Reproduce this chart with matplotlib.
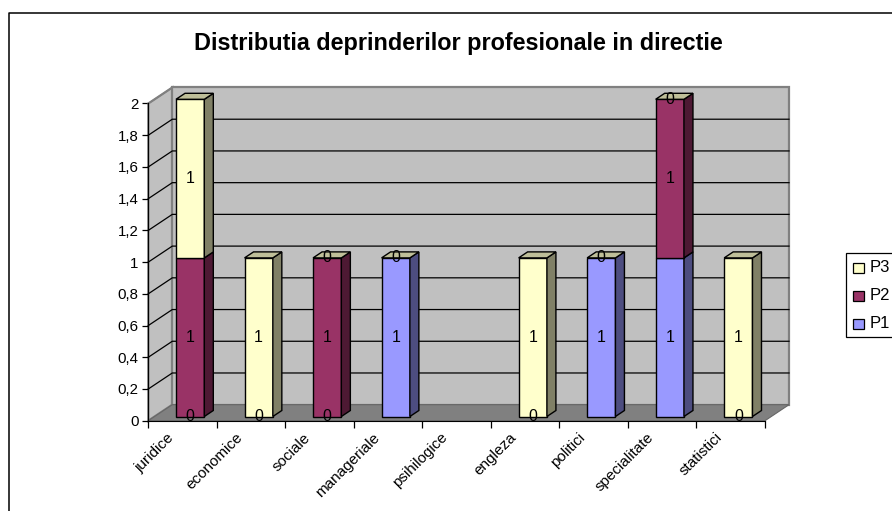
import matplotlib
matplotlib.use('Agg')
import matplotlib.pyplot as plt
from matplotlib.patches import Rectangle
from matplotlib.transforms import ScaledTranslation

plt.rcParams['font.family'] = ['Liberation Sans', 'DejaVu Sans']

categories = ['juridice', 'economice', 'sociale', 'manageriale', 'psihilogice',
              'engleza', 'politici', 'specialitate', 'statistici']
# None = empty cell, no segment and no label
p1 = [0, 0, 0, 1, None, 0, 1, 1, 0]
p2 = [1, None, 1, 0, None, None, 0, 1, None]
p3 = [1, 1, 0, None, None, 1, None, 0, 1]
series_names = ['P1', 'P2', 'P3']
y_ticks = [0, 0.2, 0.4, 0.6, 0.8, 1, 1.2, 1.4, 1.6, 1.8, 2]

front_colors = ['#9999FF', '#993366', '#FFFFCC']
side_colors = ['#4D4D80', '#4D1933', '#808066']
cap_color = '#BFBF99'
label_size = 10.8

W, H = 892, 511
# front plane of the 3D box, in pixels
left, right, bottom, top = 148.3, 765.0, 420.7, 103.5
fig = plt.figure(figsize=(W / 100, H / 100), dpi=100)
ax = fig.add_axes([left / W, 1 - bottom / H, (right - left) / W, (bottom - top) / H])
ax.set_xlim(0, len(categories))
ax.set_ylim(0, 2)

px_x = len(categories) / (right - left)  # data units per pixel
px_y = 2 / (bottom - top)
wall_dx, wall_dy = 24 * px_x, 16 * px_y
bar_width = 28.3 * px_x
bar_off_x, bar_off_y = 7.6 * px_x, 4.2 * px_y
bar_dx, bar_dy = 9 * px_x, 6 * px_y
n = len(categories)


def poly(xs, ys, color, edge='black', lw=1.0, z=1):
    ax.fill(xs, ys, facecolor=color, edgecolor=edge, lw=lw, zorder=z,
            clip_on=False, joinstyle='miter')


def draw_walls():
    poly([0, wall_dx, wall_dx, 0], [0, wall_dy, 2 + wall_dy, 2], '#C0C0C0', '#808080', 1.6)
    poly([wall_dx, n + wall_dx, n + wall_dx, wall_dx],
         [wall_dy, wall_dy, 2 + wall_dy, 2 + wall_dy], '#C0C0C0', '#808080', 1.6)
    for v in y_ticks[1:-1]:
        ax.plot([0, wall_dx, n + wall_dx], [v, v + wall_dy, v + wall_dy],
                color='black', lw=0.9, zorder=2, clip_on=False)
    ax.plot([0, wall_dx], [2, 2 + wall_dy], color='#808080', lw=1.0, zorder=2, clip_on=False)
    poly([0, wall_dx, n + wall_dx, n], [0, wall_dy, wall_dy, 0], '#808080', '#666666', 0.8, 3)


def draw_bars():
    z = 4
    for i in range(n):
        x0 = i + 0.5 - bar_width / 2 + bar_off_x
        x1 = x0 + bar_width
        base = 0
        labels = []
        for j, vals in enumerate([p1, p2, p3]):
            v = vals[i]
            if v is None:
                continue
            y0 = base + bar_off_y
            y1 = y0 + v
            if v > 0:
                poly([x0, x1, x1, x0], [y0, y0, y1, y1], front_colors[j], z=z)
                poly([x1, x1 + bar_dx, x1 + bar_dx, x1],
                     [y0, y0 + bar_dy, y1 + bar_dy, y1], side_colors[j], z=z)
            labels.append(((x0 + x1) / 2, (y0 + y1) / 2, v))
            base += v
        if base > 0:
            y1 = base + bar_off_y
            poly([x0, x1, x1 + bar_dx, x0 + bar_dx],
                 [y1, y1, y1 + bar_dy, y1 + bar_dy], cap_color, z=z)
        for lx, ly, v in labels:
            ax.text(lx, ly, str(v), ha='center', va='center', fontsize=11.4,
                    color='black', zorder=6, clip_on=False)


draw_walls()
draw_bars()

for s in ['top', 'right']:
    ax.spines[s].set_visible(False)
ax.patch.set_visible(False)
ax.spines['left'].set_zorder(5)
ax.spines['bottom'].set_zorder(5)
ax.set_yticks(y_ticks)
ax.set_yticklabels([str(v).replace('.', ',') for v in y_ticks], fontsize=label_size)
ax.tick_params(axis='y', length=4, width=0.9, pad=3)
ax.set_xticks(range(n + 1))
ax.set_xticklabels([])
ax.tick_params(axis='x', which='major', length=5, width=0.9)
ax.set_xticks([i + 0.5 for i in range(n)], minor=True)
ax.set_xticklabels(categories, minor=True, rotation=45, ha='right',
                   rotation_mode='anchor', fontsize=11)
ax.tick_params(axis='x', which='minor', length=0, pad=7)
shift = ScaledTranslation(-16 / 100, 0, fig.dpi_scale_trans)
for t in ax.get_xticklabels(minor=True):
    t.set_transform(t.get_transform() + shift)

fig.text(458.5 / W, 1 - 43 / H, 'Distributia deprinderilor profesionale in directie',
         ha='center', va='center', fontsize=16.8, fontweight='bold')

# chart frame: only the top and left edges fall inside the picture
fig.add_artist(plt.Line2D([8.5 / W, 8.5 / W, 1], [0, 1 - 13.5 / H, 1 - 13.5 / H],
                          color='black', lw=1.1, transform=fig.transFigure))

# legend box runs off the right edge of the picture
lx, ly_top, ly_bot = 846.0, 253.0, 337.0
fig.add_artist(Rectangle((lx / W, 1 - ly_bot / H), 60 / W, (ly_bot - ly_top) / H,
                         facecolor='white', edgecolor='black', lw=0.9,
                         transform=fig.transFigure, clip_on=True))
for k, j in enumerate([2, 1, 0]):
    cy = 268 + k * 28
    fig.add_artist(Rectangle((853 / W, 1 - (cy + 5) / H), 10.5 / W, 10 / H,
                             facecolor=front_colors[j], edgecolor='black', lw=0.9,
                             transform=fig.transFigure))
    fig.text(870 / W, 1 - cy / H, series_names[j], ha='left', va='center', fontsize=12)

fig.savefig('out.png', dpi=100)
